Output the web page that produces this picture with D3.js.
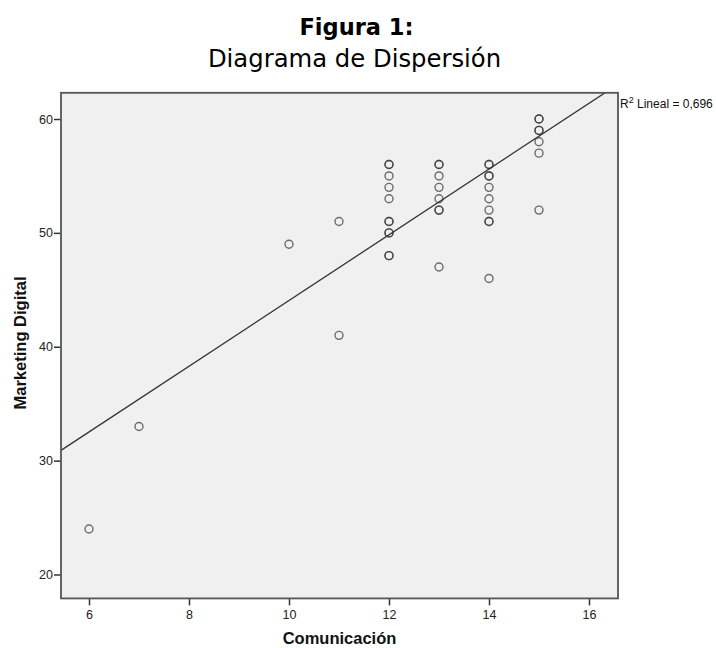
<!DOCTYPE html>
<html>
<head>
<meta charset="utf-8">
<script src="https://cdn.jsdelivr.net/npm/d3@7"></script>
<style>
  html, body { margin: 0; padding: 0; background: #fff; }
  svg { display: block; }
</style>
</head>
<body>
<svg id="chart" width="716" height="648"></svg>
<script>
// Comunicación (x) vs Marketing Digital (y); repeated pairs are listed twice
const comunicacion = [6, 7, 10, 11, 11,
  12, 12, 12, 12, 12, 12, 12, 12, 12, 12, 12,
  13, 13, 13, 13, 13, 13, 13, 13,
  14, 14, 14, 14, 14, 14, 14, 14, 14, 14,
  15, 15, 15, 15, 15, 15, 15];
const marketing = [24, 33, 49, 51, 41,
  56, 56, 55, 54, 53, 51, 51, 50, 50, 48, 48,
  56, 56, 55, 54, 53, 52, 52, 47,
  56, 56, 55, 55, 54, 53, 52, 51, 51, 46,
  60, 60, 59, 59, 58, 57, 52];

// Linear fit shown on the chart
const fitIntercept = 15.2;
const fitSlope = 2.886;
const rSquared = "0,696";

const xTicks = [6, 8, 10, 12, 14, 16];
const yTicks = [20, 30, 40, 50, 60];
const xDomain = [5.44, 16.58];
const yDomain = [17.9, 62.3];

const svg = d3.select("#chart");

const x = d3.scaleLinear().domain([6, 16]).range([89, 589]);
const y = d3.scaleLinear().domain([20, 60]).range([574.5, 119]);

const plotLeft = x(xDomain[0]), plotRight = x(xDomain[1]);
const plotTop = y(yDomain[1]), plotBottom = y(yDomain[0]);

const sansFont = "'Liberation Sans', Arial, sans-serif";
const titleFont = "'DejaVu Sans', Verdana, sans-serif";

// Titles
svg.append("text")
  .attr("x", 356.5).attr("y", 35)
  .attr("text-anchor", "middle")
  .attr("font-family", titleFont)
  .attr("font-weight", "bold")
  .attr("font-size", 22.5)
  .attr("fill", "#000")
  .text("Figura 1:");
svg.append("text")
  .attr("x", 354.5).attr("y", 67)
  .attr("text-anchor", "middle")
  .attr("font-family", titleFont)
  .attr("font-size", 24.3)
  .attr("fill", "#000")
  .text("Diagrama de Dispersión");

// Plot area
svg.append("rect")
  .attr("x", plotLeft).attr("y", plotTop)
  .attr("width", plotRight - plotLeft).attr("height", plotBottom - plotTop)
  .attr("fill", "#f0f0f0");

svg.append("clipPath").attr("id", "plotClip")
  .append("rect")
  .attr("x", plotLeft).attr("y", plotTop)
  .attr("width", plotRight - plotLeft).attr("height", plotBottom - plotTop);

// Axes
const xAxis = d3.axisBottom(x).tickValues(xTicks).tickSize(7).tickSizeOuter(0);
const yAxis = d3.axisLeft(y).tickValues(yTicks).tickSize(7).tickSizeOuter(0);

const gx = svg.append("g").attr("transform", `translate(0,${plotBottom})`).call(xAxis);
const gy = svg.append("g").attr("transform", `translate(${plotLeft},0)`).call(yAxis);
[gx, gy].forEach(g => {
  g.select(".domain").remove();
  g.selectAll(".tick line").attr("stroke", "#333").attr("stroke-width", 1.5);
  g.selectAll(".tick text")
    .attr("font-family", sansFont)
    .attr("font-size", 12.5)
    .attr("fill", "#222");
});
gx.selectAll(".tick text").attr("dy", null).attr("y", 20.5);
gy.selectAll(".tick text").attr("x", -8);

// Fit line
svg.append("line")
  .attr("clip-path", "url(#plotClip)")
  .attr("x1", x(xDomain[0])).attr("y1", y(fitIntercept + fitSlope * xDomain[0]))
  .attr("x2", x(xDomain[1])).attr("y2", y(fitIntercept + fitSlope * xDomain[1]))
  .attr("stroke", "#333").attr("stroke-width", 1.3);

// Points
const points = comunicacion.map((c, i) => ({ c, m: marketing[i] }));
svg.append("g")
  .selectAll("circle")
  .data(points)
  .join("circle")
  .attr("cx", d => x(d.c))
  .attr("cy", d => y(d.m))
  .attr("r", 4)
  .attr("fill", "none")
  .attr("stroke", "#333")
  .attr("stroke-opacity", 0.7)
  .attr("stroke-width", 1.4);

// Frame
svg.append("rect")
  .attr("x", plotLeft).attr("y", plotTop)
  .attr("width", plotRight - plotLeft).attr("height", plotBottom - plotTop)
  .attr("fill", "none")
  .attr("stroke", "#555").attr("stroke-width", 1.8);

// R² annotation
const r2 = svg.append("text")
  .attr("x", plotRight + 2).attr("y", 107.5)
  .attr("font-family", sansFont)
  .attr("font-size", 12)
  .attr("fill", "#111");
r2.append("tspan").text("R");
r2.append("tspan").attr("font-size", 9).attr("dy", -5).text("2");
r2.append("tspan").attr("dy", 5).text(" Lineal = " + rSquared);

// Axis titles
svg.append("text")
  .attr("x", 339.5).attr("y", 644)
  .attr("text-anchor", "middle")
  .attr("font-family", sansFont)
  .attr("font-weight", "bold")
  .attr("font-size", 16.5)
  .attr("fill", "#111")
  .text("Comunicación");
svg.append("text")
  .attr("transform", "translate(26,343) rotate(-90)")
  .attr("text-anchor", "middle")
  .attr("font-family", sansFont)
  .attr("font-weight", "bold")
  .attr("font-size", 16.5)
  .attr("fill", "#111")
  .text("Marketing Digital");
</script>
</body>
</html>
